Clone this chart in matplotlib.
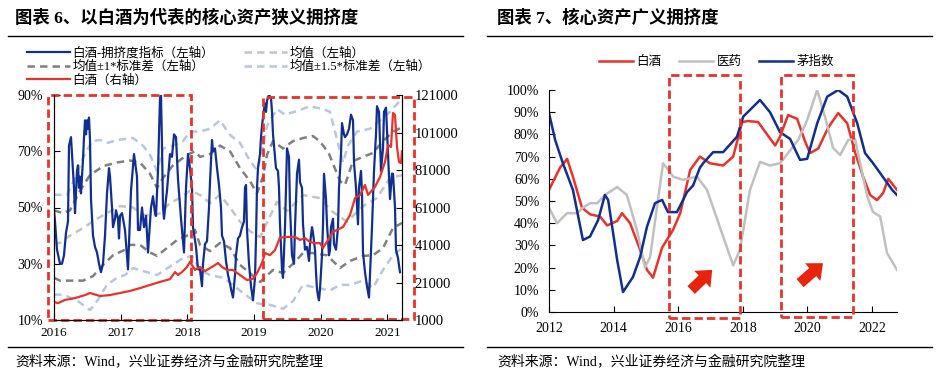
import matplotlib
matplotlib.use('Agg')
import matplotlib.pyplot as plt
from matplotlib.patches import Rectangle
from matplotlib.lines import Line2D
from matplotlib.ticker import FuncFormatter

plt.rcParams['font.family'] = ['Liberation Serif', 'Noto Sans CJK SC']
plt.rcParams['axes.unicode_minus'] = False

# ---------------- 图表6 数据 ----------------
crowd_x = [2016.00, 2016.015, 2016.045, 2016.09, 2016.12, 2016.15, 2016.18, 2016.21, 2016.225, 2016.255,
           2016.27, 2016.30, 2016.315, 2016.345, 2016.36, 2016.375, 2016.39, 2016.405, 2016.435, 2016.45,
           2016.465, 2016.48, 2016.495, 2016.51, 2016.525, 2016.54, 2016.555, 2016.585, 2016.615, 2016.645,
           2016.675, 2016.705, 2016.735, 2016.765, 2016.795, 2016.825, 2016.84, 2016.87, 2016.885, 2016.915,
           2016.93, 2016.96, 2016.975, 2016.99, 2017.02, 2017.065, 2017.11, 2017.155, 2017.20, 2017.245,
           2017.26, 2017.29, 2017.32, 2017.35, 2017.38, 2017.41, 2017.455, 2017.485, 2017.515, 2017.53,
           2017.56, 2017.59, 2017.605, 2017.62, 2017.635, 2017.65, 2017.68, 2017.695, 2017.74, 2017.77,
           2017.80, 2017.83, 2017.86, 2017.905, 2017.95, 2017.98, 2018.01, 2018.04, 2018.07, 2018.085,
           2018.13, 2018.16, 2018.19, 2018.22, 2018.235, 2018.265, 2018.295, 2018.325, 2018.34, 2018.37,
           2018.385, 2018.415, 2018.445, 2018.475, 2018.505, 2018.52, 2018.55, 2018.58, 2018.61, 2018.64,
           2018.655, 2018.685, 2018.715, 2018.73, 2018.76, 2018.79, 2018.82, 2018.85, 2018.865, 2018.88,
           2018.895, 2018.925, 2018.955, 2018.985, 2019.015, 2019.03, 2019.045, 2019.06, 2019.09, 2019.105,
           2019.12, 2019.15, 2019.165, 2019.18, 2019.195, 2019.225, 2019.255, 2019.27, 2019.285, 2019.315,
           2019.33, 2019.36, 2019.375, 2019.39, 2019.42, 2019.435, 2019.465, 2019.495, 2019.525, 2019.54,
           2019.57, 2019.60, 2019.615, 2019.645, 2019.675, 2019.69, 2019.72, 2019.735, 2019.765, 2019.795,
           2019.825, 2019.84, 2019.87, 2019.885, 2019.915, 2019.93, 2019.945, 2019.96, 2019.975, 2019.99,
           2020.02, 2020.035, 2020.05, 2020.08, 2020.095, 2020.125, 2020.14, 2020.155, 2020.185, 2020.20,
           2020.23, 2020.26, 2020.275, 2020.305, 2020.32, 2020.35, 2020.365, 2020.395, 2020.425, 2020.455,
           2020.485, 2020.50, 2020.53, 2020.56, 2020.575, 2020.605, 2020.62, 2020.635, 2020.665, 2020.695,
           2020.725, 2020.74, 2020.77, 2020.80, 2020.83, 2020.845, 2020.875, 2020.905, 2020.935, 2020.95,
           2020.98, 2021.01, 2021.04, 2021.07, 2021.085, 2021.115, 2021.13, 2021.16, 2021.19]
crowd_y = [49, 45, 35, 30, 30, 33, 41, 45, 72, 75,
           69, 57, 48, 63, 65, 57, 61, 55, 67, 75,
           81, 76, 81, 78, 82, 74, 53, 40, 36, 34,
           30, 27, 30, 40, 55, 64, 61, 50, 43, 46,
           49, 46, 39, 47, 48, 42, 28, 56, 69, 61,
           42, 42, 50, 43, 47, 34, 50, 54, 48, 47,
           63, 89, 90, 72, 50, 46, 53, 56, 69, 68,
           76, 75, 60, 46, 34, 57, 69, 64, 57, 43,
           36, 28, 28, 22, 30, 37, 38, 50, 59, 74,
           70, 71, 64, 58, 50, 40, 38, 31, 26, 23,
           21, 18, 26, 33, 39, 40, 43, 45, 57, 58,
           42, 30, 22, 17, 25, 39, 57, 64, 69, 75,
           79, 85, 87, 84, 88, 90, 89, 84, 76, 68,
           64, 63, 57, 44, 28, 25, 43, 71, 68, 50,
           33, 30, 43, 62, 67, 59, 57, 44, 35, 36,
           31, 37, 43, 41, 35, 27, 21, 18.5, 17, 21,
           33, 44, 62, 53, 44, 33, 35, 43, 46, 37,
           35, 43, 57, 69, 80, 76, 75, 76, 78, 83,
           81, 66, 57, 44, 57, 63, 55, 34, 27, 22,
           18, 26, 43, 63, 76, 86, 84, 63, 71, 84,
           85.5, 69, 53, 62, 62, 50, 35, 32, 27]

mean_x = [2016.00, 2016.09, 2016.24, 2016.435, 2016.645, 2016.795, 2016.99, 2017.185, 2017.335, 2017.485,
          2017.59, 2017.74, 2017.89, 2018.04, 2018.19, 2018.34, 2018.49, 2018.64, 2018.79, 2018.94,
          2019.09, 2019.345, 2019.495, 2019.735, 2019.985, 2020.165, 2020.395, 2020.485, 2020.635, 2020.845,
          2021.04, 2021.22]
mean_y = [37.4, 37.4, 40, 42.7, 46, 48, 50.5, 50, 47.5, 47,
          48, 51.6, 53.4, 56, 54.5, 51.6, 54.5, 50, 45, 41.6,
          39.5, 52, 48.7, 54.4, 53.4, 48.7, 45, 47, 50.5, 53.4,
          60.5, 61.5]

up1_x = [2016.00, 2016.135, 2016.24, 2016.39, 2016.54, 2016.735, 2016.945, 2017.14, 2017.29, 2017.44,
         2017.545, 2017.635, 2017.785, 2017.995, 2018.115, 2018.19, 2018.34, 2018.49, 2018.64, 2018.79,
         2018.94, 2019.045, 2019.135, 2019.195, 2019.285, 2019.435, 2019.585, 2019.735, 2019.885, 2019.985,
         2020.12, 2020.29, 2020.365, 2020.485, 2020.635, 2020.785, 2020.935, 2021.085, 2021.22]
up1_y = [49, 48, 49, 56, 61.5, 64.7, 66, 66.7, 66, 62,
         57, 60.5, 65, 68.7, 70, 68, 69, 72, 70, 64,
         59.4, 55, 61, 68.7, 73.6, 71, 73.6, 74.7, 75.4, 73.6,
         69.4, 59.4, 58, 66.5, 68, 69.4, 73.6, 77, 78.5]

dn1_x = [2016.00, 2016.09, 2016.285, 2016.435, 2016.585, 2016.735, 2016.885, 2017.065, 2017.14, 2017.29,
         2017.44, 2017.545, 2017.695, 2017.845, 2017.995, 2018.115, 2018.19, 2018.34, 2018.49, 2018.64,
         2018.79, 2018.94, 2019.09, 2019.285, 2019.435, 2019.585, 2019.735, 2019.885, 2020.095, 2020.29,
         2020.44, 2020.635, 2020.785, 2020.935, 2021.085, 2021.22]
dn1_y = [25, 24, 24, 24, 25.6, 29.6, 33, 35, 36.7, 36.7,
         34, 32.8, 35.6, 38.4, 40, 42, 36.7, 34.5, 37.4, 35.6,
         29.6, 26.7, 23.5, 27.8, 26.7, 30, 33.8, 33.8, 33, 28.5,
         31, 32.8, 33, 35.6, 42.7, 44.5]

up15_x = [2016.00, 2016.195, 2016.315, 2016.435, 2016.57, 2016.69, 2016.81, 2016.945, 2017.185, 2017.335,
          2017.44, 2017.545, 2017.635, 2017.785, 2017.935, 2018.04, 2018.19, 2018.34, 2018.49, 2018.64,
          2018.79, 2018.94, 2019.045, 2019.12, 2019.195, 2019.345, 2019.465, 2019.645, 2019.84, 2020.035,
          2020.14, 2020.215, 2020.335, 2020.41, 2020.545, 2020.74, 2020.89, 2021.04, 2021.19, 2021.22]
up15_y = [54.5, 54.5, 60.5, 67.6, 73.6, 74, 73, 74, 74.7, 72,
          68.7, 63, 71, 72, 73.6, 77, 77, 78, 81, 75.8,
          73, 66.5, 63.3, 70, 79, 85, 83, 84.3, 86, 85,
          84, 77, 66, 72, 77, 78, 81, 84, 88, 88.5]

dn15_x = [2016.00, 2016.135, 2016.345, 2016.54, 2016.645, 2016.795, 2016.945, 2017.065, 2017.185, 2017.335,
          2017.545, 2017.74, 2017.935, 2018.07, 2018.19, 2018.34, 2018.535, 2018.685, 2018.835, 2019.045,
          2019.165, 2019.24, 2019.435, 2019.585, 2019.735, 2019.945, 2020.14, 2020.29, 2020.44, 2020.635,
          2020.785, 2020.935, 2021.085, 2021.22]
dn15_y = [19, 19, 17, 13.5, 16.7, 22.5, 25, 26, 28.5, 27.4,
          26, 29, 32, 32.8, 27.8, 26, 25, 22.5, 19.6, 16,
          15.4, 15.4, 14, 16.7, 22.5, 21.4, 20.5, 22.5, 22.5, 24,
          21.4, 27.8, 33, 35.6]

baijiu_x = [2016.00, 2016.06, 2016.165, 2016.315, 2016.465, 2016.54, 2016.69, 2016.84, 2016.99, 2017.14,
            2017.29, 2017.44, 2017.59, 2017.74, 2017.815, 2017.86, 2017.92, 2017.995, 2018.04, 2018.07,
            2018.115, 2018.19, 2018.265, 2018.34, 2018.415, 2018.46, 2018.52, 2018.595, 2018.685, 2018.79,
            2018.895, 2018.985, 2019.045, 2019.12, 2019.165, 2019.24, 2019.315, 2019.39, 2019.51, 2019.615,
            2019.69, 2019.765, 2019.84, 2019.915, 2019.99, 2020.035, 2020.11, 2020.185, 2020.335, 2020.44,
            2020.515, 2020.59, 2020.665, 2020.71, 2020.815, 2020.89, 2020.965, 2021.01, 2021.055, 2021.085,
            2021.115, 2021.145, 2021.175, 2021.205, 2021.22]
baijiu_y = [10600, 10000, 11700, 12700, 14300, 15400, 13800, 14300, 15400, 16500,
            18000, 19700, 21300, 22800, 26600, 25000, 26600, 29300, 32000, 30300,
            27700, 29300, 27100, 28700, 30300, 31400, 29300, 27700, 27700, 25000,
            22300, 23000, 26000, 31400, 36700, 35600, 38300, 45000, 45300, 45300,
            43700, 44700, 42600, 42000, 42000, 39400, 43700, 48000, 50600, 57000,
            66000, 67700, 73000, 67700, 72000, 77300, 85300, 94300, 93300, 111400,
            110300, 93300, 85300, 84700, 91000]

# ---------------- 图表7 数据 ----------------
bj_x = [2012.00, 2012.34, 2012.56, 2012.74, 2013.02, 2013.27, 2013.58, 2013.80, 2014.11, 2014.26,
        2014.51, 2014.82, 2015.03, 2015.22, 2015.50, 2015.84, 2016.06, 2016.37, 2016.67, 2016.98,
        2017.39, 2017.70, 2017.98, 2018.16, 2018.47, 2018.75, 2019.00, 2019.15, 2019.40, 2019.68,
        2019.93, 2020.08, 2020.33, 2020.64, 2020.95, 2021.23, 2021.47, 2021.72, 2021.94, 2022.15,
        2022.34, 2022.50, 2022.77]
bj_y = [55, 65, 69, 61, 47, 44, 43, 39, 41, 44.5,
        40, 28, 19, 15.5, 29, 37, 44.5, 64, 70, 67,
        66, 70, 85.6, 86, 85.6, 80, 75, 79, 88.7, 87,
        76.6, 71.6, 73.6, 83, 89.6, 85, 72, 61, 52.7, 50.4,
        53.6, 60, 55]

yy_x = [2012.00, 2012.25, 2012.56, 2012.87, 2013.05, 2013.27, 2013.49, 2013.73, 2014.11, 2014.41,
        2014.72, 2014.97, 2015.13, 2015.34, 2015.53, 2015.84, 2016.15, 2016.58, 2016.89, 2017.08,
        2017.39, 2017.70, 2017.91, 2018.22, 2018.53, 2018.84, 2019.15, 2019.40, 2019.71, 2019.99,
        2020.30, 2020.54, 2020.79, 2021.01, 2021.26, 2021.47, 2021.63, 2021.85, 2022.03, 2022.25,
        2022.46, 2022.77]
yy_y = [47, 40, 44.5, 44.5, 47, 49, 49, 52.7, 56.3, 52.7,
        37, 20, 24.8, 47, 67, 61, 59.5, 61, 55, 47,
        34, 21, 28, 55, 67.6, 66, 67, 71.6, 77.5, 86.5,
        100, 88, 74, 70.7, 77.5, 78, 67, 52, 45, 43,
        26.6, 19]

mao_x = [2012.00, 2012.19, 2012.43, 2012.74, 2013.05, 2013.27, 2013.52, 2013.73, 2013.83, 2014.11,
         2014.29, 2014.60, 2014.82, 2015.03, 2015.28, 2015.50, 2015.68, 2015.96, 2016.27, 2016.46,
         2016.67, 2016.77, 2017.08, 2017.39, 2017.82, 2018.01, 2018.53, 2018.84, 2019.15, 2019.46,
         2019.77, 2019.99, 2020.30, 2020.61, 2020.95, 2021.23, 2021.54, 2021.78, 2022.03, 2022.40,
         2022.62, 2022.77]
mao_y = [89.6, 77.5, 67, 55, 32.4, 34, 41.4, 52.7, 50.5, 23.4,
         9, 15.8, 24.8, 38.3, 49, 50.5, 45, 45, 54, 57,
         65, 67, 72, 72, 79, 88, 95.5, 90, 81, 78,
         68.5, 69, 85, 97, 100, 97, 85, 71.6, 67, 59.5,
         55, 52.7]

W, H = 936, 379
BLUE = '#102f8f'
RED = '#e8332a'
BOX_RED = '#e8322a'

fig = plt.figure(figsize=(W / 100, H / 100), dpi=100)

# 标题、分隔线、来源
fig.text(15 / W, 1 - 18 / H, '图表 6、以白酒为代表的核心资产狭义拥挤度', fontsize=12.5,
         fontweight='bold', va='center', ha='left')
fig.text(497 / W, 1 - 18 / H, '图表 7、核心资产广义拥挤度', fontsize=12.5,
         fontweight='bold', va='center', ha='left')
for x0, x1 in [(8, 463), (487, 932)]:
    fig.add_artist(Line2D([x0 / W, x1 / W], [1 - 36 / H, 1 - 36 / H], color='black', lw=1))
    fig.add_artist(Line2D([x0 / W, x1 / W], [1 - 347 / H, 1 - 347 / H], color='black', lw=1))
fig.text(15 / W, 1 - 362 / H, '资料来源：Wind，兴业证券经济与金融研究院整理', fontsize=10, va='center')
fig.text(497 / W, 1 - 362 / H, '资料来源：Wind，兴业证券经济与金融研究院整理', fontsize=10, va='center')

# ---------------- 左图 ----------------
ax1 = fig.add_axes([54 / W, 1 - 320 / H, 348 / W, 225 / H])
dash = (0, (3, 2))
l_mean, = ax1.plot(mean_x, mean_y, color='#c4c4c4', lw=1.8, ls=dash, label='均值（左轴）')
l_up15, = ax1.plot(up15_x, up15_y, color='#b4c7e7', lw=1.8, ls=dash, label='均值±1.5*标准差（左轴）')
ax1.plot(dn15_x, dn15_y, color='#b4c7e7', lw=1.8, ls=dash)
l_up1, = ax1.plot(up1_x, up1_y, color='#808080', lw=1.8, ls=dash, label='均值±1*标准差（左轴）')
ax1.plot(dn1_x, dn1_y, color='#808080', lw=1.8, ls=dash)
l_crowd, = ax1.plot(crowd_x, crowd_y, color=BLUE, lw=1.6, label='白酒-拥挤度指标（左轴）')
ax1.set_xlim(2016, 2021.22)
ax1.set_ylim(10, 90)
ax1.set_yticks([10, 30, 50, 70, 90])
ax1.yaxis.set_major_formatter(FuncFormatter(lambda v, p: '%d%%' % v))
ax1.set_xticks([2016, 2017, 2018, 2019, 2020, 2021])
ax1.set_xticklabels(['2016', '2017', '2018', '2019', '2020', '2021'])
ax1.tick_params(axis='y', direction='in', length=4, labelsize=10, pad=8)
ax1.tick_params(axis='x', direction='in', length=4, labelsize=9.5, pad=5)
ax1.spines['top'].set_visible(False)

ax1r = ax1.twinx()
l_bj, = ax1r.plot(baijiu_x, baijiu_y, color=RED, lw=1.6, label='白酒（右轴）')
ax1r.set_ylim(1000, 121000)
ax1r.set_yticks(list(range(1000, 121001, 20000)))
ax1r.tick_params(axis='y', direction='in', length=4, labelsize=10.5, pad=9)
ax1r.spines['top'].set_visible(False)

box_kw = dict(fill=False, edgecolor=BOX_RED, lw=2, ls=(0, (3, 1.5)), clip_on=False, zorder=10)
ax1.add_patch(Rectangle((2015.91, 10), 2018.06 - 2015.91, 80, **box_kw))
ax1.add_patch(Rectangle((2019.135, 10.4), 2021.40 - 2019.135, 78.9, **box_kw))

fig.legend([l_crowd, l_up1, l_bj, l_mean, l_up15],
           [h.get_label() for h in [l_crowd, l_up1, l_bj, l_mean, l_up15]],
           ncol=2, loc='upper left', bbox_to_anchor=(27 / W, 1 - 47 / H), frameon=False,
           fontsize=9, handlelength=3.4, handletextpad=0.25, columnspacing=2.4,
           labelspacing=0.1, borderpad=0, borderaxespad=0)

# ---------------- 右图 ----------------
ax2 = fig.add_axes([549 / W, 1 - 312 / H, 348 / W, 222 / H])
r1, = ax2.plot(bj_x, bj_y, color=RED, lw=1.8, label='白酒')
r2, = ax2.plot(yy_x, yy_y, color='#c0c0c0', lw=1.8, label='医药')
r3, = ax2.plot(mao_x, mao_y, color=BLUE, lw=1.8, label='茅指数')
ax2.set_xlim(2012, 2022.77)
ax2.set_ylim(0, 100)
ax2.set_yticks(list(range(0, 101, 10)))
ax2.yaxis.set_major_formatter(FuncFormatter(lambda v, p: '%d%%' % v))
ax2.set_xticks([2012, 2014, 2016, 2018, 2020, 2022])
ax2.set_xticklabels(['2012', '2014', '2016', '2018', '2020', '2022'])
ax2.tick_params(direction='in', length=4, labelsize=10, pad=7)
ax2.spines['top'].set_visible(False)
ax2.spines['right'].set_visible(False)

ax2.add_patch(Rectangle((2015.72, -2.7), 2017.91 - 2015.72, 109.5, **box_kw))
ax2.add_patch(Rectangle((2019.18, -2.3), 2021.41 - 2019.18, 109.1, **box_kw))

arrow_kw = dict(arrowstyle='simple,head_length=0.7,head_width=1.2,tail_width=0.55',
                mutation_scale=14, color='#e8250c', lw=0, shrinkA=0, shrinkB=0)
ax2.annotate('', xy=(2017.05, 19), xytext=(2016.40, 9.9), arrowprops=arrow_kw)
ax2.annotate('', xy=(2020.48, 22), xytext=(2019.77, 13), arrowprops=arrow_kw)

fig.legend([r1, r2, r3], ['白酒', '医药', '茅指数'], ncol=3, loc='upper left',
           bbox_to_anchor=(599 / W, 1 - 56 / H), frameon=False, fontsize=9,
           handlelength=2.7, handletextpad=0.3, columnspacing=1.4, borderpad=0, borderaxespad=0)

fig.savefig('out.png', dpi=100)
